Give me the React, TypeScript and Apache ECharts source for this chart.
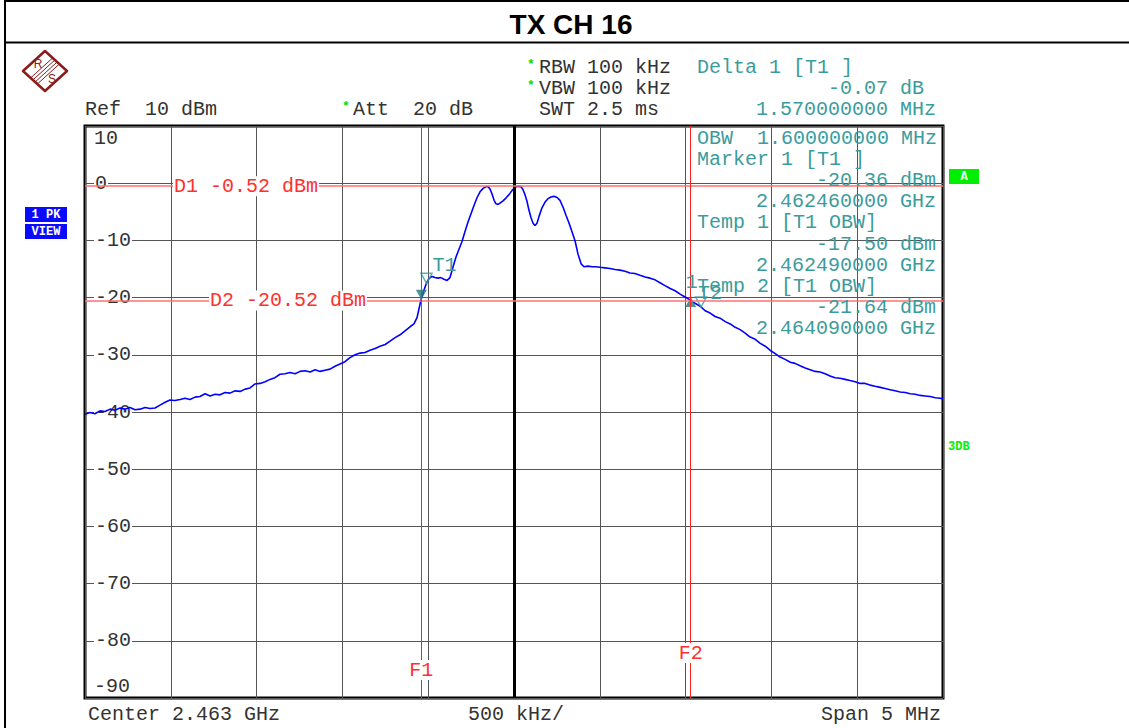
import React, { useEffect, useRef } from "react";
import * as echarts from "echarts";

const chartTitle = "TX CH 16";
const startMHz = 2460.5;
const stopMHz = 2465.5;
const divMHz = 0.5;
const refLevel = 10;
const bottomLevel = -90;
const levelStep = 10;

// Trace (frequency MHz, level dBm)
const traceMHz = [
  2460.5, 2460.529, 2460.558, 2460.587, 2460.617, 2460.646, 2460.675, 2460.704, 2460.733, 2460.762,
  2460.792, 2460.821, 2460.85, 2460.879, 2460.908, 2460.937, 2460.967, 2460.995, 2461.024, 2461.054,
  2461.083, 2461.112, 2461.141, 2461.17, 2461.2, 2461.229, 2461.258, 2461.287, 2461.316, 2461.345,
  2461.375, 2461.404, 2461.433, 2461.462, 2461.491, 2461.52, 2461.55, 2461.578, 2461.607, 2461.636,
  2461.666, 2461.695, 2461.725, 2461.753, 2461.783, 2461.812, 2461.841, 2461.87, 2461.899, 2461.928,
  2461.957, 2461.986, 2462.015, 2462.044, 2462.074, 2462.103, 2462.132, 2462.161, 2462.191, 2462.219,
  2462.249, 2462.278, 2462.307, 2462.336, 2462.365, 2462.394, 2462.417, 2462.435, 2462.446, 2462.458,
  2462.47, 2462.482, 2462.493, 2462.504, 2462.522, 2462.539, 2462.557, 2462.574, 2462.592, 2462.61,
  2462.627, 2462.645, 2462.662, 2462.68, 2462.697, 2462.715, 2462.732, 2462.75, 2462.767, 2462.785,
  2462.802, 2462.82, 2462.837, 2462.849, 2462.86, 2462.872, 2462.884, 2462.895, 2462.907, 2462.918,
  2462.936, 2462.953, 2462.971, 2462.988, 2463.006, 2463.023, 2463.041, 2463.052, 2463.064, 2463.076,
  2463.087, 2463.099, 2463.111, 2463.122, 2463.134, 2463.146, 2463.163, 2463.181, 2463.198, 2463.216,
  2463.233, 2463.251, 2463.268, 2463.286, 2463.303, 2463.321, 2463.338, 2463.356, 2463.373, 2463.391,
  2463.408, 2463.431, 2463.455, 2463.478, 2463.501, 2463.53, 2463.559, 2463.589, 2463.618, 2463.647,
  2463.676, 2463.705, 2463.734, 2463.764, 2463.793, 2463.822, 2463.851, 2463.88, 2463.91, 2463.939,
  2463.968, 2463.997, 2464.026, 2464.055, 2464.085, 2464.114, 2464.143, 2464.172, 2464.201, 2464.231,
  2464.26, 2464.289, 2464.318, 2464.347, 2464.376, 2464.406, 2464.435, 2464.464, 2464.492, 2464.522,
  2464.551, 2464.58, 2464.61, 2464.638, 2464.667, 2464.697, 2464.726, 2464.755, 2464.784, 2464.813,
  2464.842, 2464.871, 2464.9, 2464.929, 2464.958, 2464.988, 2465.017, 2465.046, 2465.075, 2465.104,
  2465.134, 2465.163, 2465.192, 2465.221, 2465.25, 2465.28, 2465.309, 2465.338, 2465.367, 2465.396,
  2465.425, 2465.455, 2465.484, 2465.5,
];
const traceDbm = [
  -40.4, -40.1, -40.3, -39.8, -39.9, -39.5, -39.7, -39.3, -39.5, -39.2,
  -39.6, -39.5, -39.2, -39.4, -39.3, -38.8, -38.3, -37.9, -38.0, -37.8,
  -37.6, -37.8, -37.4, -37.3, -36.8, -37.2, -36.9, -37.0, -36.6, -36.7,
  -36.3, -36.4, -36.0, -35.8, -35.1, -35.0, -34.7, -34.3, -34.0, -33.4,
  -33.3, -33.1, -33.3, -32.9, -32.8, -33.0, -32.6, -32.9, -32.7, -32.5,
  -32.0, -31.6, -31.2, -30.5, -30.0, -29.7, -29.6, -29.2, -28.9, -28.5,
  -28.2, -27.6, -27.0, -26.5, -25.8, -25.1, -24.6, -23.5, -22.0, -20.4,
  -19.2, -18.1, -17.3, -16.7, -16.3, -16.5, -16.6, -16.5, -16.8, -17.0,
  -16.5, -14.6, -12.9, -11.5, -10.2, -8.4, -6.8, -5.3, -3.9, -2.5,
  -1.5, -0.9, -0.6, -0.6, -1.0, -1.9, -3.0, -3.6, -3.7, -3.5,
  -3.1, -2.6, -2.0, -1.3, -0.7, -0.55, -0.6, -1.1, -2.0, -3.2,
  -4.7, -6.0, -7.0, -7.4, -7.0, -5.8, -4.3, -3.3, -2.7, -2.4,
  -2.3, -2.5, -3.0, -4.2, -5.6, -7.0, -8.5, -10.1, -12.4, -14.1,
  -14.6, -14.5, -14.6, -14.6, -14.7, -14.8, -14.9, -15.1, -15.2, -15.4,
  -15.7, -15.8, -16.1, -16.4, -16.6, -16.9, -17.4, -17.9, -18.4, -18.8,
  -19.4, -19.9, -20.4, -21.0, -21.5, -22.3, -22.7, -23.3, -23.6, -24.2,
  -24.6, -25.2, -25.6, -26.2, -26.9, -27.3, -28.0, -28.5, -29.2, -29.8,
  -30.4, -30.8, -31.3, -31.5, -31.9, -32.3, -32.6, -32.9, -33.0, -33.3,
  -33.7, -34.0, -34.1, -34.3, -34.5, -34.7, -35.0, -35.0, -35.3, -35.5,
  -35.7, -35.9, -36.1, -36.3, -36.5, -36.6, -36.8, -36.9, -37.1, -37.2,
  -37.3, -37.5, -37.6, -37.7,
];

const displayLineNames = ["D1", "D2"];
const displayLineDbm = [-0.52, -20.52];
const freqLineNames = ["F1", "F2"];
const freqLineMHz = [2462.46, 2464.03];
const centerMHz = 2463.0;

const markerNames = ["M1", "D1", "T1", "T2"];
const markerMHz = [2462.46, 2464.03, 2462.49, 2464.09];
const markerDbm = [-20.36, -20.43, -17.5, -21.64];

const headerLines = ["RBW 100 kHz", "VBW 100 kHz", "SWT 2.5 ms"];
const markerInfoLeft = ["OBW  1.600000000 MHz", "Marker 1 [T1 ]", "", "", "Temp 1 [T1 OBW]", "", "", "Temp 2 [T1 OBW]", "", ""];
const markerInfoRight = ["", "", "-20.36 dBm", "2.462460000 GHz", "", "-17.50 dBm", "2.462490000 GHz", "", "-21.64 dBm", "2.464090000 GHz"];

const MONO = "'Liberation Mono', 'DejaVu Sans Mono', monospace";
const TEAL = "#3c9c9c";
const TEXT = "#333333";
const RED = "#ff3030";
const FS = 20;

export default function App() {
  const ref = useRef<HTMLDivElement>(null);

  useEffect(() => {
    document.body.style.margin = "0";
    const chart = echarts.init(ref.current!, null, { renderer: "svg" });

    const labelFont = { fontFamily: MONO, fontSize: FS, color: TEXT };

    chart.setOption({
      animation: false,
      backgroundColor: "#ffffff",
      grid: { left: 85, top: 126, width: 858, height: 572, show: true, borderColor: "#000", borderWidth: 3, backgroundColor: "#fff" },
      xAxis: {
        type: "value",
        min: startMHz,
        max: stopMHz,
        interval: divMHz,
        axisLabel: { show: false },
        axisTick: { show: false },
        axisLine: { show: false },
        splitLine: { show: true, lineStyle: { color: "#555", width: 1 } },
      },
      yAxis: {
        type: "value",
        min: bottomLevel,
        max: refLevel,
        interval: levelStep,
        axisTick: { show: false },
        axisLine: { show: false },
        splitLine: { show: true, lineStyle: { color: "#555", width: 1 } },
        axisLabel: {
          inside: true,
          margin: 9,
          showMinLabel: true,
          showMaxLabel: true,
          formatter: (v: number) => (v === refLevel ? `{t|${v}}` : v === bottomLevel ? `{b|${v}}` : `{n|${v}}`),
          rich: {
            n: { ...labelFont, backgroundColor: "#fff", padding: [0, 1, 0, 1] },
            t: { ...labelFont, padding: [24, 0, 0, 0] },
            b: { ...labelFont, padding: [0, 0, 24, 0] },
          },
        },
      },
      series: [
        {
          type: "line",
          z: 1,
          data: [],
          silent: true,
          markLine: {
            silent: true,
            symbol: ["none", "none"],
            label: { show: false },
            data: [
              { xAxis: centerMHz, lineStyle: { color: "#000", width: 3, type: "solid" } },
              ...displayLineDbm.map((v) => ({ yAxis: v, lineStyle: { color: "#ff7070", width: 1.5, type: "solid" } })),
              ...freqLineMHz.map((v) => ({ xAxis: v, lineStyle: { color: "#ff2020", width: 1, type: "solid" } })),
            ],
          },
        },
        {
          type: "line",
          z: 3,
          showSymbol: false,
          silent: true,
          data: traceMHz.map((f, i) => [f, traceDbm[i]]),
          lineStyle: { color: "#0000ff", width: 1.6 },
        },
        {
          type: "scatter",
          z: 4,
          silent: true,
          data: markerNames.map((n, i) => {
            const hollow = n.startsWith("T");
            const delta = n === "D1";
            return {
              value: [markerMHz[i], markerDbm[i]],
              symbol: "triangle",
              symbolSize: [11, 10],
              symbolRotate: delta ? 0 : 180,
              symbolOffset: delta ? [0, 2] : [0, -5],
              itemStyle: hollow
                ? { color: "rgba(255,255,255,0)", borderColor: TEAL, borderWidth: 1.5 }
                : { color: "#1e7a7a", borderWidth: 0 },
            };
          }),
        },
      ],
    });

    const px = (f: number, v: number) => chart.convertToPixel({ gridIndex: 0 }, [f, v]) as number[];

    const txt = (x: number, y: number, text: string, o: any = {}) => ({
      type: "text",
      x,
      y,
      z: 10,
      style: { text, fontFamily: MONO, fontSize: FS, fill: TEXT, textAlign: "left", textVerticalAlign: "middle", ...o },
    });

    const graphics: any[] = [];
    // frame
    graphics.push({ type: "line", shape: { x1: 5, y1: 0, x2: 5, y2: 728 }, style: { stroke: "#000", lineWidth: 2 } });
    graphics.push({ type: "line", shape: { x1: 5, y1: 1, x2: 1129, y2: 1 }, style: { stroke: "#000", lineWidth: 2 } });
    graphics.push({ type: "line", shape: { x1: 5, y1: 42.5, x2: 1129, y2: 42.5 }, style: { stroke: "#000", lineWidth: 2 } });
    graphics.push({
      type: "text", x: 571, y: 24, style: { text: chartTitle, fontFamily: "'Liberation Sans', Arial, sans-serif", fontWeight: "bold", fontSize: 28, fill: "#000", textAlign: "center", textVerticalAlign: "middle" },
    });

    // R&S logo
    const cx = 45, cy = 71;
    const stripes = [-4.5, -1.5, 1.5, 4.5].map((d) => ({
      type: "line",
      shape: { x1: cx + 11 + d * 0.68, y1: cy - 10 + d * 0.74, x2: cx - 11 + d * 0.68, y2: cy + 10 + d * 0.74 },
      style: { stroke: "#8b1c1c", lineWidth: 1 },
    }));
    graphics.push({
      type: "group",
      children: [
        { type: "polygon", shape: { points: [[cx, cy - 20], [cx + 22, cy], [cx, cy + 20], [cx - 22, cy]] }, style: { fill: "#fff", stroke: "#8b1c1c", lineWidth: 2.5, lineJoin: "round" } },
        ...stripes,
        { type: "text", x: cx - 7, y: cy - 7, style: { text: "R", fontFamily: "'Liberation Sans', sans-serif", fontSize: 12, fill: "#8b1c1c", textAlign: "center", textVerticalAlign: "middle" } },
        { type: "text", x: cx + 7, y: cy + 8, style: { text: "S", fontFamily: "'Liberation Sans', sans-serif", fontSize: 12, fill: "#8b1c1c", textAlign: "center", textVerticalAlign: "middle" } },
      ],
    });

    // header
    graphics.push(txt(85, 109, "Ref  10 dBm"));
    graphics.push(txt(342, 106, "*", { fill: "#00dd00", fontSize: 13, fontWeight: "bold" }));
    graphics.push(txt(353, 109, "Att  20 dB"));
    graphics.push(txt(527, 64, "*", { fill: "#00dd00", fontSize: 13, fontWeight: "bold" }));
    graphics.push(txt(527, 85, "*", { fill: "#00dd00", fontSize: 13, fontWeight: "bold" }));
    headerLines.forEach((h, i) => graphics.push(txt(539, 67 + i * 21, h)));
    graphics.push(txt(697, 67, "Delta 1 [T1 ]", { fill: TEAL }));
    graphics.push(txt(924, 88, "-0.07 dB", { fill: TEAL, textAlign: "right" }));
    graphics.push(txt(936, 109, "1.570000000 MHz", { fill: TEAL, textAlign: "right" }));

    // marker info panel in plot
    markerInfoLeft.forEach((t, i) => {
      if (t) graphics.push(txt(697, 138 + i * 21.2, t, { fill: TEAL }));
    });
    markerInfoRight.forEach((t, i) => {
      if (t) graphics.push(txt(936, 138 + i * 21.2, t, { fill: TEAL, textAlign: "right" }));
    });

    // side indicators
    graphics.push({ type: "rect", shape: { x: 25, y: 207, width: 42, height: 15 }, style: { fill: "#0a0aff" } });
    graphics.push(txt(46, 215, "1 PK", { fill: "#fff", fontSize: 12, fontWeight: "bold", textAlign: "center" }));
    graphics.push({ type: "rect", shape: { x: 25, y: 224, width: 42, height: 15 }, style: { fill: "#0a0aff" } });
    graphics.push(txt(46, 232, "VIEW", { fill: "#fff", fontSize: 12, fontWeight: "bold", textAlign: "center" }));
    graphics.push({ type: "rect", shape: { x: 949, y: 169, width: 30, height: 15 }, style: { fill: "#00ee00" } });
    graphics.push(txt(964, 177, "A", { fill: "#fff", fontSize: 12, fontWeight: "bold", textAlign: "center" }));
    graphics.push(txt(948, 447, "3DB", { fill: "#00ee00", fontSize: 12, fontWeight: "bold" }));

    // bottom
    graphics.push(txt(88, 714, "Center 2.463 GHz"));
    graphics.push(txt(468, 714, "500 kHz/"));
    graphics.push(txt(941, 714, "Span 5 MHz", { textAlign: "right" }));

    // display line labels
    const dLabelX = [173, 209];
    displayLineNames.forEach((n, i) => {
      const p = px(startMHz, displayLineDbm[i]);
      const v = displayLineDbm[i];
      graphics.push(txt(dLabelX[i], p[1], `${n} ${v < 0 ? "-" : ""}${Math.abs(v).toFixed(2)} dBm`, { fill: RED, backgroundColor: "#fff", padding: [0, 1, 0, 1] }));
    });
    // frequency line labels
    const fLabelY = [670, 653];
    freqLineNames.forEach((n, i) => {
      const p = px(freqLineMHz[i], 0);
      graphics.push(txt(p[0], fLabelY[i], n, { fill: RED, textAlign: "center", backgroundColor: "#fff", padding: [0, 0, 0, 0] }));
    });
    // marker labels
    const t1 = px(markerMHz[2], markerDbm[2]);
    graphics.push(txt(t1[0] + 6, t1[1] - 18, "T1", { fill: TEAL }));
    const d1 = px(markerMHz[1], markerDbm[1]);
    graphics.push(txt(d1[0] - 5, d1[1] - 18, "1", { fill: TEAL }));
    const t2 = px(markerMHz[3], markerDbm[3]);
    graphics.push(txt(t2[0] - 3, t2[1] - 13, "T2", { fill: TEAL }));

    chart.setOption({ graphic: graphics });

    return () => chart.dispose();
  }, []);

  return <div ref={ref} style={{ position: "absolute", left: 0, top: 0, width: 1129, height: 728 }} />;
}
